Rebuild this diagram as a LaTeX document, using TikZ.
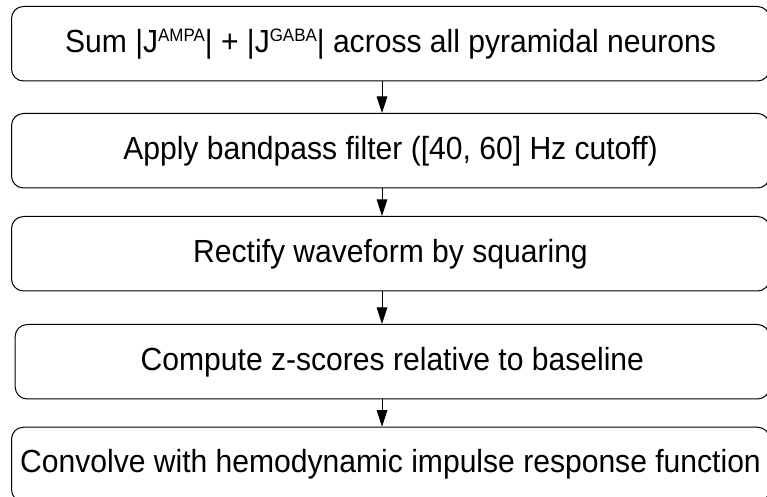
\documentclass[tikz,border=0pt]{standalone}
\usepackage{fontspec}
\setmainfont{Liberation Sans}
\usetikzlibrary{arrows.meta}
% superscript label set beside a capital
\newcommand{\supx}[1]{\raisebox{10.5pt}{\fontsize{18}{18}\selectfont #1}}
% slightly condensed text line
\newcommand{\cond}[1]{\scalebox{0.94}[1]{#1}}
\begin{document}
\begin{tikzpicture}[x=1pt,y=1pt,
  stepbox/.style={draw=black, line width=1pt, rounded corners=12pt,
    anchor=north west, inner sep=0pt, font=\fontsize{32}{38}\selectfont,
    minimum height=74.5pt, text height=23pt, text depth=6pt},
  flow/.style={draw=black, line width=1pt, -{Triangle[length=16.5pt,width=10.5pt]}}]
\useasboundingbox (0,0) rectangle (767,497);
% process steps, top to bottom
\node[stepbox, minimum width=758pt] (s1) at (11,491)
  {\cond{Sum |J\supx{AMPA}| + |J\supx{GABA}| across all pyramidal neurons}};
\node[stepbox, minimum width=758pt] (s2) at (11,384)
  {\cond{Apply bandpass filter ([40, 60] Hz cutoff)}};
\node[stepbox, minimum width=758pt] (s3) at (11,281)
  {\cond{Rectify waveform by squaring}};
\node[stepbox, minimum width=754.3pt] (s4) at (14.7,173)
  {\cond{Compute z-scores relative to baseline}};
\node[stepbox, minimum width=758pt] (s5) at (11,70.3)
  {\cond{Convolve with hemodynamic impulse response function}};
% arrows run down a common vertical line
\coordinate (ax) at (382,0);
\draw[flow] (s1.south -| ax) -- (s2.north -| ax);
\draw[flow] (s2.south -| ax) -- (s3.north -| ax);
\draw[flow] (s3.south -| ax) -- (s4.north -| ax);
\draw[flow] (s4.south -| ax) -- (s5.north -| ax);
\end{tikzpicture}
\end{document}
